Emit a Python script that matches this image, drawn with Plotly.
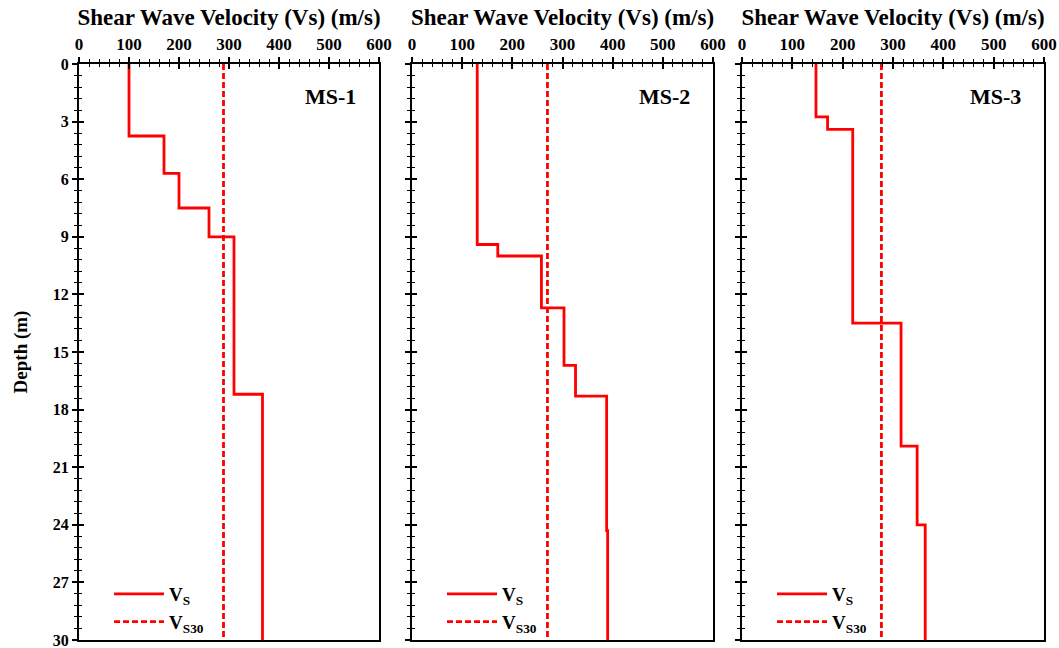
import plotly.graph_objects as go

# Layer boundaries (m) and shear wave velocities (m/s) for each site
ms1_depths = [0, 3.75, 5.7, 7.5, 9.0, 17.2, 30]
ms1_vs = [100, 170, 200, 260, 310, 367]
ms1_vs30 = 289

ms2_depths = [0, 9.4, 10.0, 12.7, 15.7, 17.3, 24.3, 30]
ms2_vs = [130, 171, 258, 303, 326, 388, 390]
ms2_vs30 = 270

ms3_depths = [0, 2.75, 3.4, 13.5, 19.9, 24.0, 30]
ms3_vs = [147, 170, 220, 316, 348, 364]
ms3_vs30 = 277

site_names = ["MS-1", "MS-2", "MS-3"]
x_title = "Shear Wave Velocity (Vs) (m/s)"
y_title = "Depth (m)"

W, H = 1059, 648
FONT = "Liberation Serif, Times New Roman, serif"
RED = "#ff0000"

# plot boxes in pixels: (left, right), shared top/bottom
boxes = [(79, 379), (412, 713), (742, 1044)]
top_px, bot_px = 64, 640


def step_profile(depths, vs):
    xs, ys = [], []
    for i, v in enumerate(vs):
        xs += [v, v]
        ys += [depths[i], depths[i + 1]]
    return xs, ys


def sfx(k):
    return "" if k == 1 else str(k)


sites = [
    (ms1_depths, ms1_vs, ms1_vs30),
    (ms2_depths, ms2_vs, ms2_vs30),
    (ms3_depths, ms3_vs, ms3_vs30),
]

fig = go.Figure()
layout = dict(
    width=W, height=H, autosize=False,
    margin=dict(l=0, r=0, t=0, b=0),
    paper_bgcolor="white", plot_bgcolor="white",
    font=dict(family=FONT, color="black"),
    showlegend=True,
    annotations=[],
)

ydom = [1 - bot_px / H, 1 - top_px / H]

for i, ((depths, vs, vs30), name, (xl, xr)) in enumerate(zip(sites, site_names, boxes)):
    n = sfx(i + 1)
    m = sfx(i + 4)  # overlay axes carrying inward ticks
    xdom = [xl / W, xr / W]
    legend_id = f"legend{n}"

    xs, ys = step_profile(depths, vs)
    fig.add_trace(go.Scatter(
        x=xs, y=ys, mode="lines", name="<b>V<sub>S</sub></b>",
        line=dict(color=RED, width=2.8),
        xaxis=f"x{n}", yaxis=f"y{n}", legend=legend_id,
    ))
    fig.add_trace(go.Scatter(
        x=[vs30, vs30], y=[0, 30], mode="lines", name="<b>V<sub>S30</sub></b>",
        line=dict(color=RED, width=2.8, dash="6px,3px"),
        xaxis=f"x{m}", yaxis=f"y{m}", legend=legend_id,
    ))

    common_x = dict(range=[0, 600], dtick=100, showgrid=False, zeroline=False,
                    automargin=False)
    common_y = dict(range=[30, 0], dtick=3, showgrid=False, zeroline=False,
                    automargin=False)

    layout[f"xaxis{n}"] = dict(
        **common_x, domain=xdom, anchor=f"y{n}", side="top",
        showline=True, linecolor="black", linewidth=2, mirror=True,
        ticks="outside", ticklen=5, tickwidth=1.5, tickcolor="black",
        minor=dict(dtick=20, ticks="outside", ticklen=3, tickwidth=1.2, tickcolor="black"),
        tickfont=dict(family=FONT, size=17, weight="bold"),
        ticklabeloverflow="allow",
        title=dict(text=f"<b>{x_title}</b>", font=dict(family=FONT, size=23), standoff=3),
    )
    layout[f"xaxis{m}"] = dict(
        **common_x, domain=xdom, anchor=f"y{m}", side="top", overlaying=f"x{n}",
        showline=False, showticklabels=False,
        ticks="inside", ticklen=5, tickwidth=1.5, tickcolor="black",
        minor=dict(dtick=20, ticks="inside", ticklen=3, tickwidth=1.2, tickcolor="black"),
    )
    layout[f"yaxis{n}"] = dict(
        **common_y, domain=ydom, anchor=f"x{n}", side="left",
        showline=True, linecolor="black", linewidth=2, mirror=True,
        ticks="outside", ticklen=5, tickwidth=1.5, tickcolor="black",
        minor=dict(dtick=0.6, ticks="outside", ticklen=3, tickwidth=1.2, tickcolor="black"),
        showticklabels=(i == 0),
        ticklabeloverflow="allow",
        tickfont=dict(family=FONT, size=16, weight="bold"),
    )
    if i == 0:
        layout[f"yaxis{n}"]["title"] = dict(
            text=f"<b>{y_title}</b>", font=dict(family=FONT, size=19), standoff=20)
    layout[f"yaxis{m}"] = dict(
        **common_y, domain=ydom, anchor=f"x{m}", side="left", overlaying=f"y{n}",
        showline=False, showticklabels=False,
        ticks="inside", ticklen=5, tickwidth=1.5, tickcolor="black",
        minor=dict(dtick=0.6, ticks="inside", ticklen=3, tickwidth=1.2, tickcolor="black"),
    )

    layout[legend_id] = dict(
        x=(xl + 30) / W, y=1 - 575 / H, xanchor="left", yanchor="top",
        bgcolor="rgba(0,0,0,0)", borderwidth=0,
        font=dict(family=FONT, size=19, color="black"),
        itemwidth=50, tracegroupgap=0,
    )

    layout["annotations"].append(dict(
        text=f"<b>{name}</b>", xref=f"x{n} domain", yref=f"y{n} domain",
        x=0.93, y=0.943, xanchor="right", yanchor="middle", showarrow=False,
        font=dict(family=FONT, size=22, color="black"),
    ))

fig.update_layout(**layout)
fig.write_html("out.html")
